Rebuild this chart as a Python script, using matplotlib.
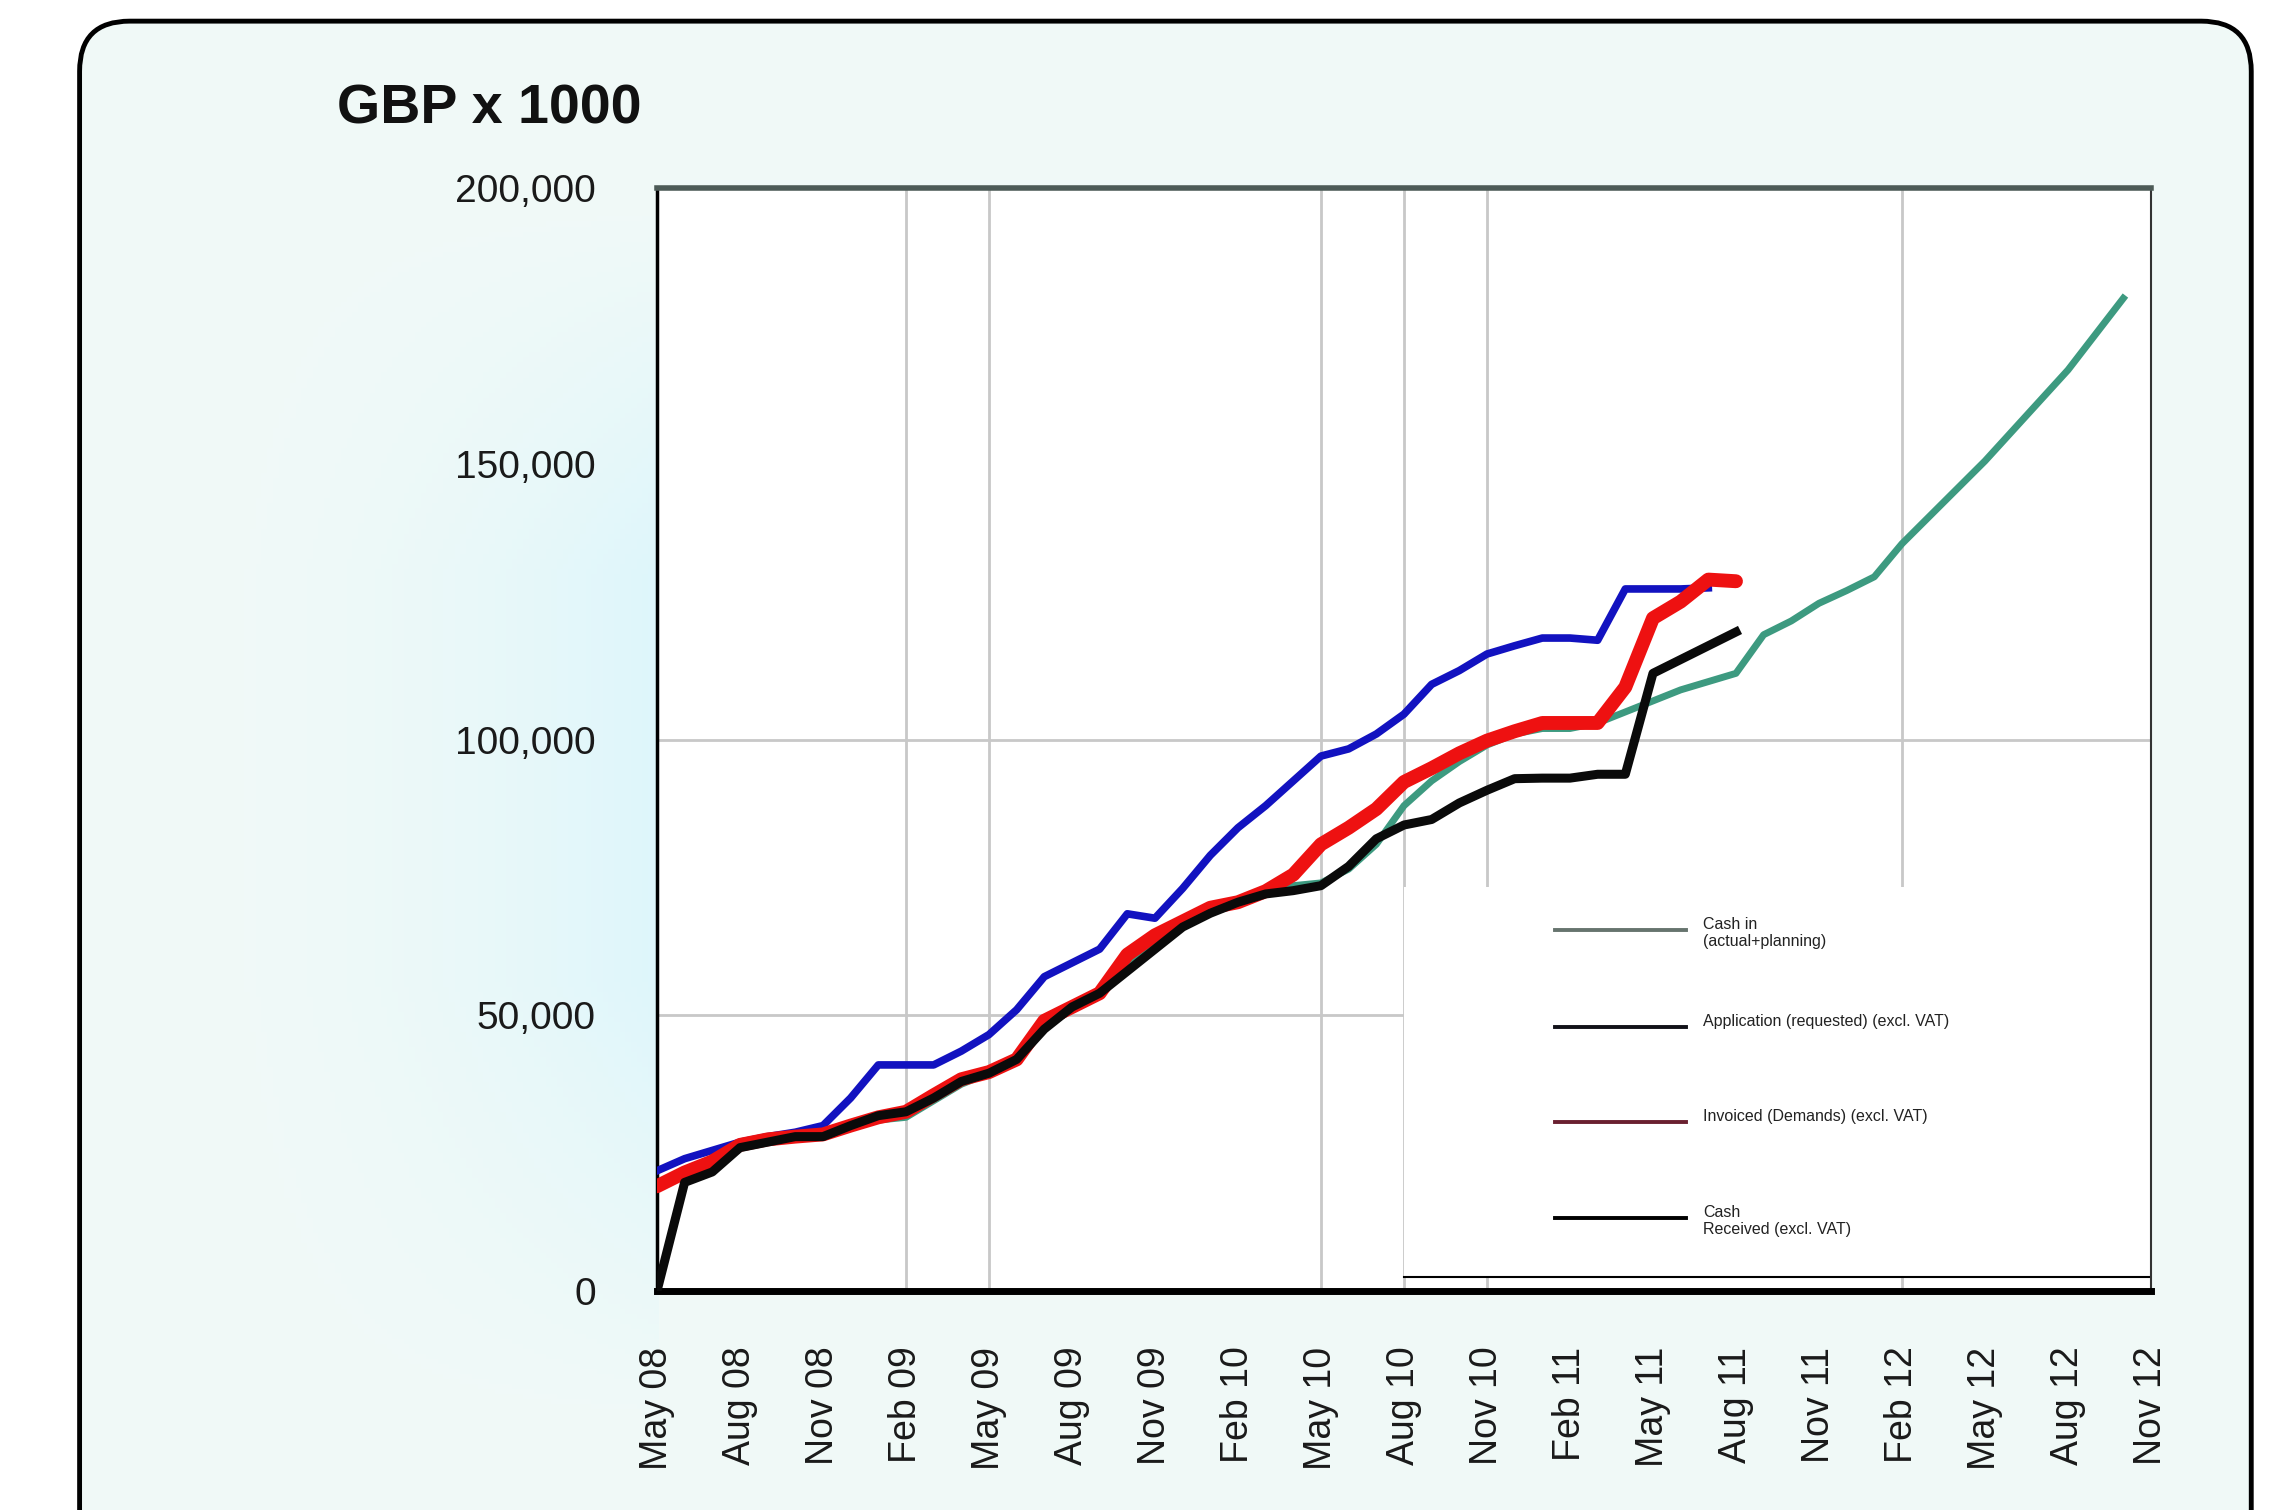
import matplotlib
matplotlib.use('Agg')
import numpy as np
import matplotlib.pyplot as plt
from matplotlib.patches import FancyBboxPatch, Rectangle

plt.rcParams['font.family'] = ['Liberation Sans', 'DejaVu Sans']

# monthly values in GBP x 1000, starting May 08
tick_labels = ['May 08', 'Aug 08', 'Nov 08', 'Feb 09', 'May 09', 'Aug 09', 'Nov 09',
               'Feb 10', 'May 10', 'Aug 10', 'Nov 10', 'Feb 11', 'May 11', 'Aug 11',
               'Nov 11', 'Feb 12', 'May 12', 'Aug 12', 'Nov 12']
grid_months = [9, 12, 24, 27, 30, 45]

cash_in = [19, 21, 23.5, 26, 27, 28, 28, 29.5, 31, 31.5, 34.5, 37.5, 39.5, 42, 48, 51,
           54, 59, 63, 66.5, 69, 70.5, 72.5, 73.5, 74, 76.5, 81, 88, 92.5, 96, 99, 101,
           102, 102, 103, 105, 107, 109, 110.5, 112, 119, 121.5, 124.7, 127, 129.5,
           135.5, 140.5, 145.5, 150.5, 156, 161.5, 167, 173.5, 180]
application = [21.8, 24, 25.5, 27, 28, 28.8, 30, 35, 41, 41, 41, 43.5, 46.5, 51, 57,
               59.5, 62, 68.4, 67.6, 73, 79, 84, 88, 92.5, 97, 98.3, 101, 104.6, 110,
               112.5, 115.5, 117, 118.4, 118.4, 118, 127.3, 127.3, 127.3, 127.5]
invoiced = [19, 21.5, 23.5, 26.5, 27.5, 28, 28.4, 30, 31.5, 32.5, 35.5, 38.4, 39.7, 42,
            49, 51.5, 54, 61, 64.5, 67, 69.5, 70.5, 72.5, 75.5, 81, 84, 87.4, 92.3,
            94.8, 97.5, 99.8, 101.5, 103, 103, 103, 109.5, 122, 125, 129, 128.7]
received = [0, 19.7, 21.6, 26, 27, 28, 28, 30, 31.8, 32.5, 35, 38, 39.5, 42, 47.5, 51.5,
            54, 58, 62, 66, 68.5, 70.5, 72, 72.6, 73.5, 77, 82, 84.5, 85.5, 88.5, 90.8,
            92.9, 93, 93, 93.7, 93.7, 112, 114.5, 117, 119.5]

legend_labels = ['Cash in\n(actual+planning)', 'Application (requested) (excl. VAT)',
                 'Invoiced (Demands) (excl. VAT)', 'Cash\nReceived (excl. VAT)']
legend_colors = ['#66746e', '#111118', '#6a2030', '#000000']

fig = plt.figure(figsize=(22.74, 15.10), dpi=100)
fig.patch.set_facecolor('white')

# background panel with rounded border
bg = fig.add_axes([0, 0, 1, 1])
bg.set_xlim(0, 1)
bg.set_ylim(0, 1)
bg.axis('off')
box = FancyBboxPatch((0.035, -0.2), 0.955, 1.186,
                     boxstyle='round,pad=0,rounding_size=0.022',
                     mutation_aspect=2274 / 1510, facecolor='none',
                     edgecolor='black', lw=3.5, zorder=3)
bg.add_patch(box)
xx = np.linspace(0, 1, 400)
yy = np.linspace(0, 1, 300)
X, Y = np.meshgrid(xx, yy)
base = np.array([0.945, 0.98, 0.972])
cyan = np.array([0.87, 0.965, 0.985])
w = np.clip((X - 0.06) / 0.23, 0, 1) ** 2 * (X < 0.29)
w = w * np.clip((0.87 - Y) / 0.25, 0, 1) * np.clip((Y - 0.05) / 0.3, 0, 1)
img = base[None, None, :] * (1 - w[..., None]) + cyan[None, None, :] * w[..., None]
im = bg.imshow(img, extent=[0, 1, 0, 1], origin='lower', aspect='auto', zorder=1)
clip = FancyBboxPatch((0.035, -0.2), 0.955, 1.186,
                      boxstyle='round,pad=0,rounding_size=0.022',
                      mutation_aspect=2274 / 1510, facecolor='none',
                      edgecolor='none', transform=bg.transData)
im.set_clip_path(clip)

fig.text(0.148, 0.918, 'GBP x 1000', fontsize=40, fontweight='bold', color='#111111')

ax = fig.add_axes([0.2889, 0.145, 0.657, 0.7305])
ax.set_facecolor('white')

for m in grid_months:
    ax.axvline(m, color='#c8c8c8', lw=2, zorder=0.5)
for v in [50000, 100000]:
    ax.axhline(v, color='#c8c8c8', lw=2, zorder=0.5)

# legend area
ax.add_patch(Rectangle((0.5, 0.013), 0.5, 0.353, transform=ax.transAxes,
                       facecolor='white', edgecolor='none', zorder=1))
ax.plot([0.5, 1], [0.013, 0.013], transform=ax.transAxes, color='black', lw=1.5, zorder=1.5)

ax.plot(range(len(cash_in)), np.array(cash_in) * 1000, color='#3d9a80', lw=5,
        zorder=2, solid_joinstyle='round')
ax.plot(range(len(application)), np.array(application) * 1000, color='#1212c0', lw=5.5,
        zorder=3, solid_joinstyle='round')
ax.plot(range(len(invoiced)), np.array(invoiced) * 1000, color='#ee1111', lw=10,
        zorder=4, solid_joinstyle='round', solid_capstyle='round')
ax.plot(range(len(received)), np.array(received) * 1000, color='#0a0a0a', lw=6.5,
        zorder=5, solid_joinstyle='round')

leg_y = [0.327, 0.239, 0.153, 0.066]
for lab, col, y in zip(legend_labels, legend_colors, leg_y):
    ax.plot([0.601, 0.689], [y, y], transform=ax.transAxes, color=col, lw=2.8, zorder=6)
    ax.text(0.700, y + 0.012, lab, transform=ax.transAxes, fontsize=11.5, va='top',
            ha='left', color='#222222', zorder=6, linespacing=1.15)

ax.set_xlim(0, 54)
ax.set_ylim(0, 200000)
ax.set_xticks(range(0, 55, 3))
ax.set_xticklabels(tick_labels, rotation=90, fontsize=27, color='#1a1a1a')
ax.set_yticks([0, 50000, 100000, 150000, 200000])
ax.set_yticklabels(['0', '50,000', '100,000', '150,000', '200,000'], fontsize=28,
                   color='#1a1a1a')
ax.tick_params(axis='x', length=0, pad=40)
ax.tick_params(axis='y', length=0, pad=44)

ax.spines['top'].set_color('#4d5b57')
ax.spines['top'].set_linewidth(4)
ax.spines['left'].set_color('black')
ax.spines['left'].set_linewidth(2.5)
ax.spines['bottom'].set_color('black')
ax.spines['bottom'].set_linewidth(5)
ax.spines['right'].set_color('#333333')
ax.spines['right'].set_linewidth(1.5)

fig.savefig('out.png', dpi=100)
